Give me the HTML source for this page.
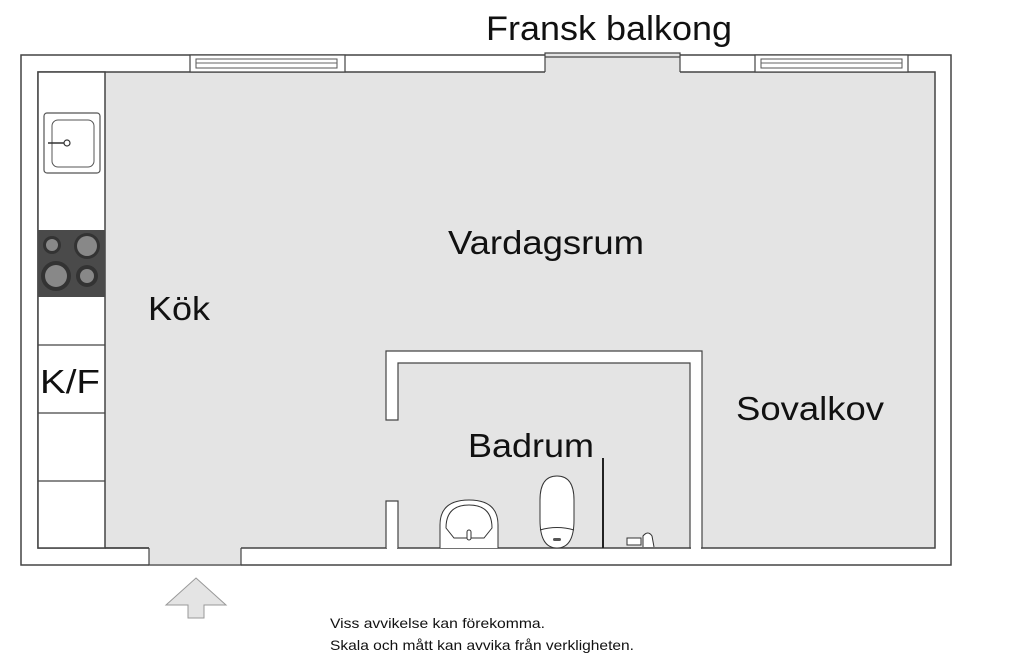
<!DOCTYPE html>
<html><head><meta charset="utf-8"><style>
html,body{margin:0;padding:0;background:#fff;}
svg{display:block;font-family:"Liberation Sans",Arial,sans-serif;}
</style></head><body>
<svg width="1024" height="667" viewBox="0 0 1024 667" xmlns="http://www.w3.org/2000/svg">
<rect x="21" y="55" width="930" height="510" fill="#fff" stroke="#444" stroke-width="1.5"/>
<rect x="38" y="72" width="897" height="476" fill="#e4e4e4" stroke="#444" stroke-width="1.5"/>
<rect x="38" y="72" width="67" height="476" fill="#fff" stroke="#444" stroke-width="1.5"/>
<line x1="38" y1="345" x2="105" y2="345" stroke="#444" stroke-width="1.2"/>
<line x1="38" y1="413" x2="105" y2="413" stroke="#444" stroke-width="1.2"/>
<line x1="38" y1="481" x2="105" y2="481" stroke="#444" stroke-width="1.2"/>
<rect x="44" y="113" width="56" height="60" rx="3" fill="#fff" stroke="#555" stroke-width="1.2"/>
<rect x="52" y="120" width="42" height="47" rx="6" fill="#fff" stroke="#555" stroke-width="1"/>
<line x1="48" y1="143" x2="67" y2="143" stroke="#333" stroke-width="1.5"/>
<circle cx="67" cy="143" r="3" fill="#fff" stroke="#333" stroke-width="1.2"/>
<rect x="38" y="230" width="67" height="67" fill="#4a4a4a"/>
<circle cx="52" cy="245" r="9" fill="#333"/><circle cx="52" cy="245" r="6" fill="#888"/>
<circle cx="87" cy="246" r="13" fill="#333"/><circle cx="87" cy="246" r="10" fill="#888"/>
<circle cx="56" cy="276" r="15" fill="#333"/><circle cx="56" cy="276" r="11" fill="#888"/>
<circle cx="87" cy="276" r="11" fill="#333"/><circle cx="87" cy="276" r="7" fill="#888"/>
<rect x="190" y="55" width="155" height="17" fill="#fff" stroke="#444" stroke-width="1.2"/>
<rect x="196" y="59" width="141" height="9" fill="#fff" stroke="#555" stroke-width="1"/>
<line x1="196" y1="63" x2="337" y2="63" stroke="#666" stroke-width="1"/>
<rect x="755" y="55" width="153" height="17" fill="#fff" stroke="#444" stroke-width="1.2"/>
<rect x="761" y="59" width="141" height="9" fill="#fff" stroke="#555" stroke-width="1"/>
<line x1="761" y1="63" x2="902" y2="63" stroke="#666" stroke-width="1"/>
<rect x="545" y="53" width="135" height="20" fill="#e4e4e4"/>
<polyline points="545,72 545,53 680,53 680,72" fill="none" stroke="#444" stroke-width="1.2"/>
<line x1="545" y1="57" x2="680" y2="57" stroke="#444" stroke-width="1.2"/>
<rect x="149" y="547" width="92" height="19" fill="#e4e4e4"/>
<polyline points="149,548 149,565 241,565 241,548" fill="none" stroke="#444" stroke-width="1.2"/>
<line x1="105" y1="548" x2="149" y2="548" stroke="#444" stroke-width="1.5"/>
<path d="M386,420 L386,351 L702,351 L702,548 L690,548 L690,363 L398,363 L398,420 Z" fill="#fff" stroke="#444" stroke-width="1.2"/>
<path d="M386,548 L386,501 L398,501 L398,548" fill="#fff" stroke="#444" stroke-width="1.2"/>
<rect x="387" y="546" width="10" height="4" fill="#fff"/>
<rect x="691" y="546" width="10" height="4" fill="#fff"/>
<line x1="603" y1="458" x2="603" y2="548" stroke="#222" stroke-width="2"/>
<path d="M440,548 L440,525 Q440,500 469,500 Q498,500 498,525 L498,548" fill="#fff" stroke="#333" stroke-width="1"/>
<path d="M446,528 Q446,505 469,505 Q492,505 492,528 L484,538 L454,538 Z" fill="#fff" stroke="#333" stroke-width="1"/>
<rect x="467" y="530" width="4" height="10" rx="2" fill="#fff" stroke="#333" stroke-width="1"/>
<path d="M540,520 L540,500 Q540,476 557,476 Q574,476 574,500 L574,520 Q574,548 557,548 Q540,548 540,520 Z" fill="#fff" stroke="#333" stroke-width="1"/>
<path d="M540,530 Q557,525 574,530" fill="none" stroke="#333" stroke-width="1"/>
<rect x="553" y="538" width="8" height="3" rx="1.5" fill="#555"/>
<rect x="627" y="538" width="14" height="7" fill="#fff" stroke="#333" stroke-width="1"/>
<path d="M643,547 L643,536 Q648,530 652,536 L654,547" fill="#fff" stroke="#333" stroke-width="1"/>
<text x="486" y="40" font-size="34" fill="#111" textLength="246" lengthAdjust="spacingAndGlyphs">Fransk balkong</text>
<text x="448" y="254" font-size="33" fill="#111" textLength="196" lengthAdjust="spacingAndGlyphs">Vardagsrum</text>
<text x="148" y="320" font-size="33" fill="#111" textLength="62" lengthAdjust="spacingAndGlyphs">Kök</text>
<text x="40" y="393" font-size="33" fill="#111" textLength="60" lengthAdjust="spacingAndGlyphs">K/F</text>
<text x="736" y="420" font-size="33" fill="#111" textLength="148" lengthAdjust="spacingAndGlyphs">Sovalkov</text>
<text x="468" y="457" font-size="33" fill="#111" textLength="126" lengthAdjust="spacingAndGlyphs">Badrum</text>
<polygon points="196,578 226,605 204,605 204,618 188,618 188,605 166,605" fill="#e4e4e4" stroke="#999" stroke-width="1"/>
<text x="330" y="628" font-size="14" fill="#111" textLength="215" lengthAdjust="spacingAndGlyphs">Viss avvikelse kan förekomma.</text>
<text x="330" y="650" font-size="14" fill="#111" textLength="304" lengthAdjust="spacingAndGlyphs">Skala och mått kan avvika från verkligheten.</text>
</svg>
</body></html>
